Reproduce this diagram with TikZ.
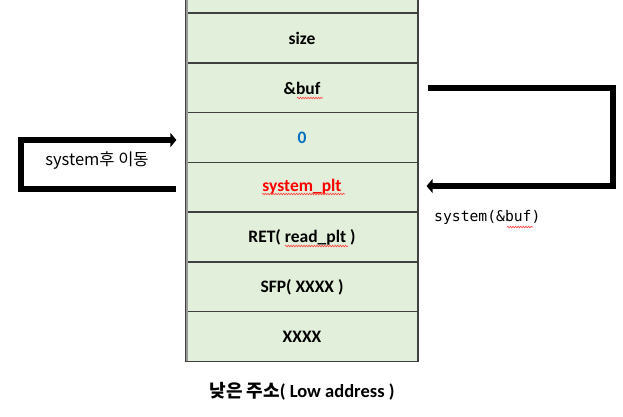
\documentclass[tikz,border=0pt]{standalone}
\usepackage{fontspec}
\setmainfont{Carlito}
\newfontfamily\cjk{Noto Sans CJK KR}
\newfontfamily\mono{DejaVu Sans Mono}
\usetikzlibrary{arrows.meta,decorations.pathmorphing}
\definecolor{cellgreen}{HTML}{E2EFDA}
\definecolor{cellline}{HTML}{404040}
\definecolor{blueval}{HTML}{0070C0}
\definecolor{redval}{HTML}{FF0000}
\tikzset{
  cell/.style={draw=cellline, line width=1.2pt, fill=cellgreen, minimum width=232pt,
    minimum height=49.7pt, inner sep=0pt, font=\bfseries\fontsize{17.5}{20}\selectfont},
  bigarrow/.style={line width=6pt, line join=miter, -{Triangle[length=6pt,width=14pt]}},
  squig/.style={draw=red!75, line width=0.6pt, decorate,
    decoration={snake, amplitude=0.8pt, segment length=2.6pt}},
  note/.style={inner sep=0pt},
}
\begin{document}
\begin{tikzpicture}[x=1pt,y=-1pt]
\useasboundingbox[fill=white] (0,0) rectangle (623,416);
% top partial cell
\fill[cellgreen] (186,0) rectangle (418,13);
\draw[cellline, line width=1.2pt] (186,0) -- (186,13) -- (418,13) -- (418,0);
% cells
\node[cell] (c1) at (302,38)    {size};
\node[cell] (c2) at (302,88)    {\&buf};
\node[cell, text=blueval] (c3) at (302,137.5) {0};
\node[cell, text=redval] (c4) at (302,187)  {system\_plt};
\node[cell] (c5) at (302,237)   {RET( read\_plt )};
\node[cell] (c6) at (302,287)   {SFP( XXXX )};
\node[cell] (c7) at (302,336.5) {XXXX};
% left border shading
\draw[gray!80, line width=1.6pt] (187,0) -- (187,361.3);
% spell-check squiggles
\draw[squig] (297,98) -- (323,98);
\draw[squig] (262,194) -- (345,194);
\draw[squig] (285,246) -- (348,246);
\draw[squig] (507,227) -- (533,227);
% left arrow
\coordinate (la) at (21,140);
\coordinate (lb) at (21,189);
\coordinate (lstart) at (c4.west |- 0,189);
\draw[bigarrow] ([xshift=-9pt]lstart) -- (lb) -- (la) -- ([xshift=-9pt]c3.west |- 0,140);
\node[note, font=\cjk\fontsize{16.5}{19}\selectfont] (lt) at (97,161) {system후 이동};
% right arrow
\coordinate (ra) at (613,87.5);
\coordinate (rb) at (613,186);
\draw[bigarrow] ([xshift=9pt]c2.east |- 0,87.5) -- (ra) -- (rb) -- ([xshift=8pt]c4.east |- 0,186);
\node[note, font=\mono\fontsize{14.7}{17}\selectfont, anchor=west] (rt) at (434,217) {system(\&buf)};
% bottom label
\node[note, anchor=north] (bl) at (c7.south |- 0,382)
  {{\cjk\bfseries\fontsize{18}{21}\selectfont 낮은 주소}{\bfseries\fontsize{18.5}{21}\selectfont( Low address )}};
\end{tikzpicture}
\end{document}
